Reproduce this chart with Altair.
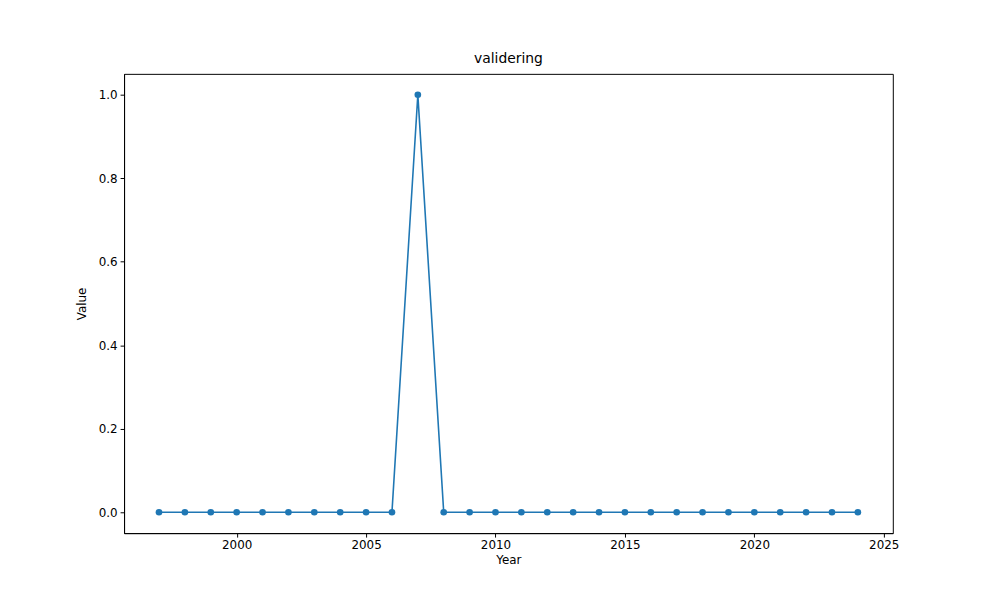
import altair as alt
import pandas as pd

years = list(range(1997, 2025))
values = [0]*10 + [1] + [0]*17
df = pd.DataFrame({"Year": years, "Value": values})

x = alt.X("Year:Q", scale=alt.Scale(domain=[1995.65, 2025.35], nice=False, zero=False),
          axis=alt.Axis(values=[2000, 2005, 2010, 2015, 2020, 2025], format="d", grid=False,
                        labelFont="DejaVu Sans", titleFont="DejaVu Sans", labelFontSize=12,
                        titleFontSize=12, titleFontWeight="normal", labelColor="black",
                        titleColor="black", domainColor="black", tickColor="black", tickSize=4,
                        labelPadding=3, titlePadding=4))
y = alt.Y("Value:Q", scale=alt.Scale(domain=[-0.05, 1.05], nice=False, zero=False),
          axis=alt.Axis(values=[0, 0.2, 0.4, 0.6, 0.8, 1.0], format=".1f", grid=False,
                        labelFont="DejaVu Sans", titleFont="DejaVu Sans", labelFontSize=12,
                        titleFontSize=12, titleFontWeight="normal", labelColor="black",
                        titleColor="black", domainColor="black", tickColor="black", tickSize=4,
                        labelPadding=3, titlePadding=10))

base = alt.Chart(df).encode(x=x, y=y)
chart = (base.mark_line(color="#1f77b4", strokeWidth=1.6) +
         base.mark_point(color="#1f77b4", filled=True, size=45, opacity=1)).properties(
    width=775, height=463,
    title=alt.TitleParams("validering", font="DejaVu Sans", fontSize=14, fontWeight="normal", offset=8),
    autosize=alt.AutoSizeParams(type="none"),
    padding={"left": 117, "top": 64, "right": 100, "bottom": 60},
).configure_view(stroke="black", strokeWidth=1)

chart.save("out.html", embed_options={"renderer": "svg", "actions": False})
